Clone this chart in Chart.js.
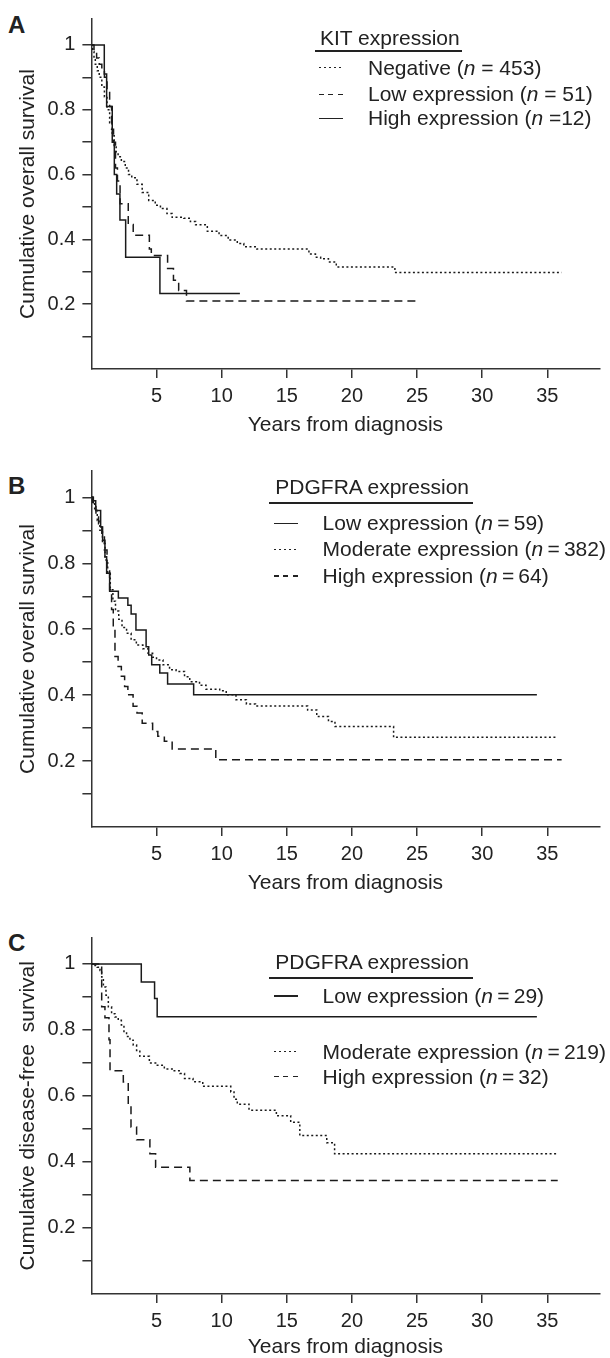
<!DOCTYPE html>
<html>
<head>
<meta charset="utf-8">
<script src="https://cdn.jsdelivr.net/npm/chart.js@4.4.1/dist/chart.umd.min.js"></script>
<style>
  html, body { margin: 0; padding: 0; background: #fff; overflow: hidden; }
  body { width: 610px; height: 1358px; position: relative; font-family: "Liberation Sans", Arial, sans-serif; color: #222; }
  canvas { position: absolute; left: 0; }
  .lbl { position: absolute; left: 8px; font-weight: bold; font-size: 24px; line-height: 24px; }
  .lg { position: absolute; font-size: 21px; line-height: 24px; white-space: nowrap; }
  .ul { position: absolute; height: 1.5px; background: #222; }
  .smp { position: absolute; height: 1.5px; width: 24px; }
</style>
</head>
<body>
<div class="lbl" style="top:13px">A</div>
<div class="lbl" style="top:474px">B</div>
<div class="lbl" style="top:931px">C</div>
<canvas id="chartA" width="610" height="445" style="top:0px"></canvas>
<canvas id="chartB" width="610" height="458" style="top:445px"></canvas>
<canvas id="chartC" width="610" height="467" style="top:903px"></canvas>
<script>
// ---- Panel A: KIT expression, overall survival ----
const kitNegT = [0, 0.1, 0.2, 0.3, 0.45, 0.6, 0.8, 1.0, 1.2, 1.4, 1.6, 1.75, 1.9, 2.05, 2.3, 2.6, 2.85, 3.1, 3.5, 3.9, 4.4, 4.9, 5.3, 5.8, 6.2, 7.1, 7.6, 8.0, 8.9, 9.8, 10.5, 11.2, 11.7, 12.7, 16.7, 17.2, 17.6, 18.2, 18.8, 23.3, 36.1];
const kitNegS = [1, 0.98, 0.96, 0.94, 0.92, 0.90, 0.87, 0.84, 0.80, 0.76, 0.72, 0.69, 0.67, 0.655, 0.64, 0.62, 0.60, 0.59, 0.57, 0.545, 0.52, 0.505, 0.495, 0.48, 0.468, 0.465, 0.455, 0.445, 0.425, 0.412, 0.398, 0.387, 0.377, 0.370, 0.355, 0.345, 0.34, 0.33, 0.315, 0.298, 0.298];
const kitLowT = [0, 0.2, 0.4, 0.6, 0.8, 1.0, 1.2, 1.4, 1.55, 1.7, 1.85, 2.0, 2.2, 2.83, 3.21, 4.45, 4.6, 5.85, 6.3, 6.7, 7.3, 24.9];
const kitLowS = [1, 0.98, 0.96, 0.94, 0.92, 0.90, 0.86, 0.81, 0.74, 0.70, 0.62, 0.58, 0.51, 0.446, 0.413, 0.37, 0.35, 0.31, 0.274, 0.242, 0.21, 0.21];
const kitHighT = [0, 0.99, 1.17, 1.6, 1.76, 1.94, 2.19, 2.63, 5.26, 11.4];
const kitHighS = [1, 0.91, 0.81, 0.70, 0.60, 0.54, 0.46, 0.345, 0.233, 0.233];
const kitLabels = ['Negative (<i>n</i> = 453)', 'Low expression (<i>n</i> = 51)', 'High expression (<i>n</i> =12)'];

// ---- Panel B: PDGFRA expression, overall survival ----
const osLowT = [0, 0.1, 0.33, 0.71, 0.86, 1.04, 1.17, 1.4, 2.07, 2.8, 3.05, 3.42, 4.2, 4.4, 4.63, 5.25, 5.85, 7.85, 34.2];
const osLowS = [1, 0.99, 0.96, 0.91, 0.87, 0.82, 0.77, 0.715, 0.695, 0.673, 0.646, 0.598, 0.547, 0.522, 0.492, 0.467, 0.434, 0.401, 0.401];
const osModT = [0, 0.1, 0.25, 0.45, 0.65, 0.85, 1.05, 1.25, 1.45, 1.65, 1.85, 2.1, 2.35, 2.7, 3.05, 3.45, 3.95, 4.35, 4.7, 5.0, 5.5, 6.0, 6.5, 7.15, 7.55, 8.3, 8.8, 9.85, 10.35, 11.1, 11.9, 12.6, 16.6, 17.3, 18.2, 18.7, 23.2, 35.7];
const osModS = [1, 0.985, 0.96, 0.93, 0.90, 0.86, 0.81, 0.77, 0.72, 0.685, 0.655, 0.63, 0.605, 0.588, 0.568, 0.552, 0.541, 0.527, 0.515, 0.507, 0.492, 0.477, 0.472, 0.456, 0.441, 0.43, 0.418, 0.413, 0.401, 0.386, 0.373, 0.367, 0.355, 0.335, 0.32, 0.305, 0.272, 0.272];
const osHighT = [0, 0.15, 0.35, 0.55, 0.8, 1.0, 1.2, 1.4, 1.55, 1.68, 1.81, 2.05, 2.3, 2.55, 2.8, 3.2, 3.5, 3.9, 4.7, 5.1, 5.6, 6.2, 9.55, 36.1];
const osHighS = [1, 0.98, 0.95, 0.92, 0.88, 0.84, 0.78, 0.72, 0.66, 0.60, 0.517, 0.487, 0.457, 0.426, 0.401, 0.366, 0.346, 0.315, 0.29, 0.275, 0.26, 0.237, 0.204, 0.204];
const osLabels = ['Low expression (<i>n</i>\u2009=\u200959)', 'Moderate expression (<i>n</i>\u2009=\u2009382)', 'High expression (<i>n</i>\u2009=\u200964)'];

// ---- Panel C: PDGFRA expression, disease-free survival ----
const dfsLowT = [0, 3.83, 4.85, 5.05, 34.2];
const dfsLowS = [1, 0.945, 0.895, 0.84, 0.84];
const dfsModT = [0, 0.2, 0.45, 0.66, 0.79, 0.92, 1.12, 1.3, 1.55, 1.81, 2.06, 2.3, 2.5, 2.7, 2.96, 3.21, 3.47, 3.72, 4.45, 5.0, 5.6, 6.2, 6.8, 7.15, 7.8, 8.55, 10.7, 10.95, 11.2, 12.1, 14.2, 15.3, 16.0, 18.07, 18.67, 35.7];
const dfsModS = [1, 0.995, 0.99, 0.98, 0.96, 0.93, 0.905, 0.87, 0.849, 0.839, 0.829, 0.815, 0.795, 0.78, 0.769, 0.754, 0.738, 0.72, 0.70, 0.693, 0.682, 0.676, 0.668, 0.653, 0.643, 0.629, 0.612, 0.59, 0.575, 0.557, 0.54, 0.52, 0.48, 0.458, 0.425, 0.425];
const dfsHighT = [0, 0.79, 1.04, 1.35, 1.43, 2.45, 2.83, 3.04, 3.47, 4.49, 4.93, 7.56, 35.8];
const dfsHighS = [1, 0.87, 0.837, 0.77, 0.676, 0.642, 0.569, 0.506, 0.467, 0.425, 0.384, 0.344, 0.344];
const dfsLabels = ['Low expression (<i>n</i>\u2009=\u200929)', 'Moderate expression (<i>n</i>\u2009=\u2009219)', 'High expression (<i>n</i>\u2009=\u200932)'];

const xTicks = [5, 10, 15, 20, 25, 30, 35];

const SOLID = [];
const DOTTED = [2, 2.5];
const DASHED = [8, 5];
const INK = '#1a1a1a';
Chart.defaults.font.family = '"Liberation Sans", Arial, sans-serif';
Chart.defaults.color = '#222';

function survChart(id, padTop, titlePad, yTitle, sets) {
    new Chart(document.getElementById(id), {
        type: 'scatter',
        data: {
            datasets: sets.map(d => ({
                data: d.t.map((x, i) => ({ x: x, y: d.s[i] })),
                showLine: true,
                stepped: true,
                borderColor: INK,
                borderWidth: 1.5,
                borderDash: d.dash,
                pointRadius: 0,
                fill: false
            }))
        },
        options: {
            responsive: false,
            animation: false,
            events: [],
            layout: { autoPadding: false, padding: { top: padTop, right: 10.6, left: 0, bottom: 0 } },
            plugins: { legend: { display: false }, tooltip: { enabled: false } },
            scales: {
                x: {
                    type: 'linear', min: 0, max: 39,
                    afterFit: s => { s.height = 76; },
                    border: { color: '#333', width: 1.5 },
                    grid: { drawOnChartArea: false, tickLength: 9, color: '#333', lineWidth: 1.5 },
                    ticks: {
                        stepSize: 5, includeBounds: false, padding: 6, color: '#222',
                        font: { size: 20 }, maxRotation: 0, autoSkip: false,
                        callback: v => xTicks.includes(v) ? String(v) : null
                    },
                    title: { display: true, text: 'Years from diagnosis', color: '#222', font: { size: 21 }, padding: { top: 0, bottom: titlePad } }
                },
                y: {
                    type: 'linear', min: 0, max: 1.08,
                    afterFit: s => { s.width = 91.4; },
                    border: { color: '#333', width: 1.5 },
                    grid: { drawOnChartArea: false, tickLength: 9, color: '#333', lineWidth: 1.5 },
                    ticks: {
                        stepSize: 0.1, includeBounds: false, padding: 7, color: '#222',
                        font: { size: 20 }, autoSkip: false,
                        callback: v => {
                            const k = Math.round(v * 10);
                            if (k === 0 || k > 10) return null;
                            if (k % 2) return '';
                            return k === 10 ? '1' : (k / 10).toFixed(1);
                        }
                    },
                    title: { display: true, text: yTitle, color: '#222', font: { size: 21 }, padding: { top: 16, bottom: 0 } }
                }
            }
        }
    });
}

survChart('chartA', 12.9, 7, 'Cumulative overall survival', [
    { t: kitNegT, s: kitNegS, dash: DOTTED },
    { t: kitLowT, s: kitLowS, dash: DASHED },
    { t: kitHighT, s: kitHighS, dash: SOLID }
]);
survChart('chartB', 26, 7, 'Cumulative overall survival', [
    { t: osLowT, s: osLowS, dash: SOLID },
    { t: osModT, s: osModS, dash: DOTTED },
    { t: osHighT, s: osHighS, dash: DASHED }
]);
survChart('chartC', 34.5, 10, 'Cumulative disease-free  survival', [
    { t: dfsLowT, s: dfsLowS, dash: SOLID },
    { t: dfsModT, s: dfsModS, dash: DOTTED },
    { t: dfsHighT, s: dfsHighS, dash: DASHED }
]);

// legends (title, underline, line samples, labels)
function sampleBg(dash) {
    if (!dash.length) return '#222';
    const a = dash === DOTTED ? 2 : 5, b = dash === DOTTED ? 5 : 9.5;
    return 'repeating-linear-gradient(90deg,#222 0 ' + a + 'px,transparent ' + a + 'px ' + b + 'px)';
}
function addLegend(cfg) {
    const body = document.body;
    const t = document.createElement('div');
    t.className = 'lg';
    t.style.left = cfg.titleX + 'px';
    t.style.top = (cfg.titleY - 12) + 'px';
    t.textContent = cfg.title;
    body.appendChild(t);
    const u = document.createElement('div');
    u.className = 'ul';
    u.style.left = cfg.ulX + 'px';
    u.style.width = cfg.ulW + 'px';
    u.style.top = cfg.ulY + 'px';
    body.appendChild(u);
    cfg.labels.forEach((lab, i) => {
        const s = document.createElement('div');
        s.className = 'smp';
        s.style.left = cfg.smpX + 'px';
        s.style.top = (cfg.rows[i] - 0.75) + 'px';
        s.style.background = sampleBg(cfg.dashes[i]);
        body.appendChild(s);
        const d = document.createElement('div');
        d.className = 'lg';
        d.style.left = cfg.textX + 'px';
        d.style.top = (cfg.rows[i] - 12) + 'px';
        d.innerHTML = lab;
        body.appendChild(d);
    });
}
addLegend({ title: 'KIT expression', titleX: 320, titleY: 38.3, ulX: 314.8, ulW: 147.4, ulY: 50,
    smpX: 318.7, textX: 368, rows: [67.7, 94.3, 118.3], labels: kitLabels, dashes: [DOTTED, DASHED, SOLID] });
addLegend({ title: 'PDGFRA expression', titleX: 275.3, titleY: 486.7, ulX: 269, ulW: 203.7, ulY: 502,
    smpX: 274, textX: 322.6, rows: [523.3, 549.3, 576], labels: osLabels, dashes: [SOLID, DOTTED, DASHED] });
addLegend({ title: 'PDGFRA expression', titleX: 275.3, titleY: 961.7, ulX: 269, ulW: 203.7, ulY: 977,
    smpX: 274, textX: 322.6, rows: [996, 1051.7, 1076.7], labels: dfsLabels, dashes: [SOLID, DOTTED, DASHED] });
</script>
</body>
</html>
